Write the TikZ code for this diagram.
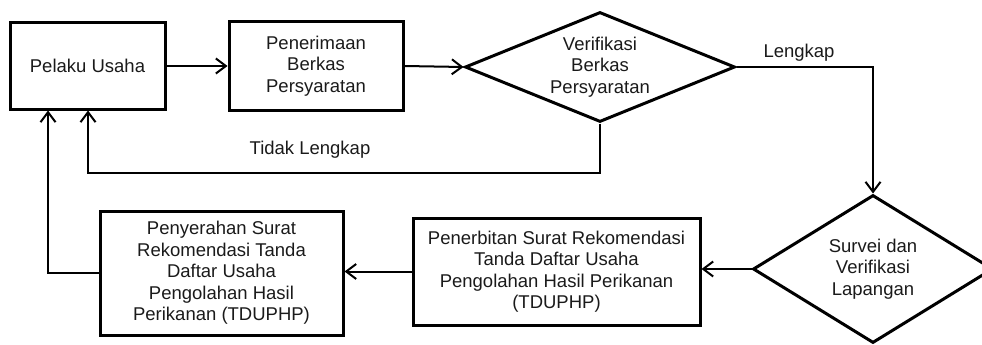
\documentclass[tikz,border=0pt]{standalone}
\usepackage{fontspec}
\setmainfont{Liberation Sans}
\usetikzlibrary{shapes.geometric,arrows.meta}
\definecolor{ink}{HTML}{1A1A1A}
\begin{document}
\begin{tikzpicture}[x=1pt,y=-1pt,
  every node/.style={font=\fontsize{18.5}{21.5}\selectfont, text=ink, align=center},
  boxnode/.style={draw=black, line width=3pt, rectangle, inner sep=0pt},
  decnode/.style={draw=black, line width=3pt, diamond, inner sep=0pt},
  arr/.style={draw=black, line width=2pt, -{Straight Barb[length=10pt,width=15pt]}},
  plainline/.style={draw=black, line width=2pt}]
\clip (0,0) rectangle (982,345);
\node[boxnode, minimum width=155pt, minimum height=86pt] (pelaku) at (87.5,66) {Pelaku Usaha};
\node[boxnode, minimum width=174pt, minimum height=88pt] (pener) at (316,66) {Penerimaan\\Berkas\\Persyaratan};
\node[decnode, minimum width=270pt, minimum height=110pt, aspect=2.45] (ver) at (600,67) {Verifikasi\\Berkas\\Persyaratan};
\node[decnode, minimum width=240pt, minimum height=148pt, aspect=1.62] (survei) at (873,269) {Survei dan\\Verifikasi\\Lapangan};
\node[boxnode, minimum width=287pt, minimum height=107pt] (penerb) at (556.5,271.5) {Penerbitan Surat Rekomendasi\\Tanda Daftar Usaha\\Pengolahan Hasil Perikanan\\(TDUPHP)};
\node[boxnode, minimum width=243pt, minimum height=124pt] (penyer) at (221.5,273) {Penyerahan Surat\\Rekomendasi Tanda\\Daftar Usaha\\Pengolahan Hasil\\Perikanan (TDUPHP)};
\node (lengkap) at (799,53) {Lengkap};
\node (tidak) at (310,150) {Tidak Lengkap};
\coordinate (tl) at (88,173);
\coordinate (bl) at (48,0);
\draw[arr] (pelaku.east) -- (pener.west);
\draw[arr] (pener.east) -- (ver.west);
\draw[arr] (ver.east) -| (survei.north);
\draw[arr] (ver.south) |- (tl) -- (tl |- pelaku.south);
\draw[arr] (survei.west) -- (survei.west -| penerb.east);
\draw[arr] (penerb.west) -- (penerb.west -| penyer.east);
\draw[arr] (penyer.west) -| (bl |- pelaku.south);
\end{tikzpicture}
\end{document}
